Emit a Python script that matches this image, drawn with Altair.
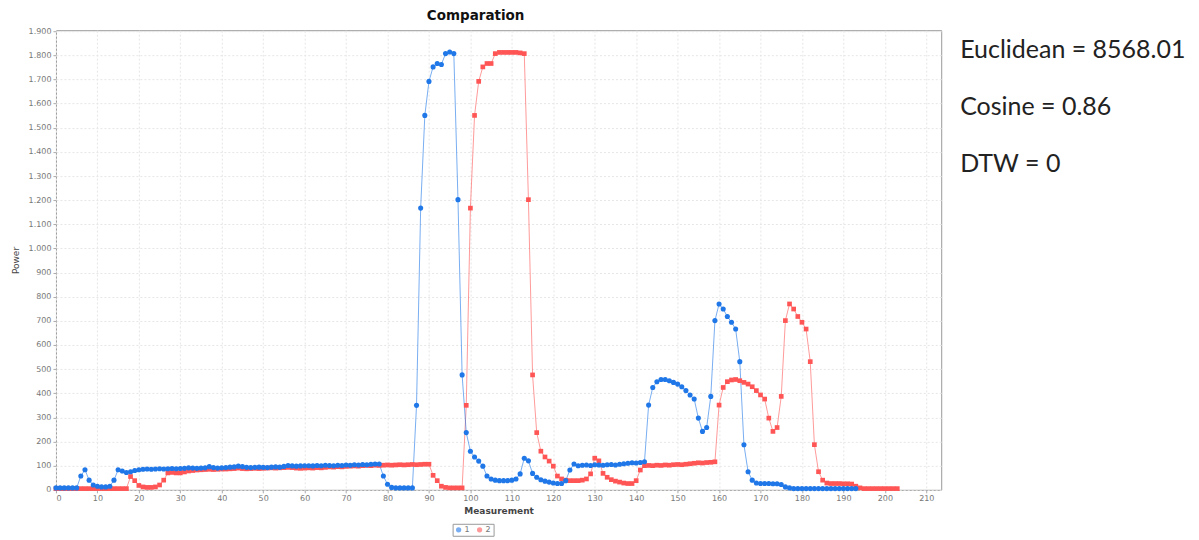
import altair as alt
import pandas as pd

# ---- data ----
blue_vals = (
    [8, 8, 8, 8, 8, 8, 57, 83, 40, 20, 15, 12, 12, 15, 40, 83, 78, 72, 75, 80]
    + [83, 85, 86, 85, 86, 87, 86, 87, 88, 87,
       88, 89, 91, 90, 89, 90, 91, 96, 92, 90,
       91, 92, 94, 95, 98, 96, 93, 92, 93, 94,
       93, 92, 94, 95, 94, 97, 101, 99, 98, 99,
       100, 100, 99, 101, 100, 102, 101, 100, 102, 101,
       103, 102, 104, 103, 105, 104, 106, 107, 107]
    + [57, 23, 10, 8, 8, 8, 8, 8]
    + [350, 1167, 1551, 1692, 1752, 1766, 1762, 1807, 1814, 1807, 1202, 476, 237]
    + [160, 136, 119, 98, 57, 45, 40, 38, 38, 38,
       40, 45, 66, 131, 120, 68, 52, 42, 36, 32,
       28, 26, 26, 38, 82, 107]
    + [100, 102, 103, 101, 104, 103, 102, 104, 105, 103, 106, 108, 110, 112, 111, 113, 116]
    + [351, 424, 448, 457, 457, 452, 445, 438, 427, 411,
       393, 376, 297, 242, 258, 387, 701, 770, 749, 718,
       694, 666, 531, 187, 75, 40, 28, 26, 26, 26,
       25, 25, 22, 12, 8]
    + [5] * 16
)

red_vals = (
    [5] * 18
    + [55, 38, 18, 12, 10, 10, 12, 20, 40, 70]
    + [72, 70, 70, 74, 78, 80, 82, 83, 84, 85,
       84, 85, 86, 86, 87, 88, 90, 88, 87, 88,
       89, 88, 89, 90, 91, 90, 91, 92, 93, 92,
       90, 89, 90, 91, 90, 92, 91, 93, 95, 94,
       96, 95, 97, 98, 99, 98, 100, 101, 100, 102,
       101, 102, 103, 102, 103, 104, 103, 104, 105, 104,
       105, 106, 106]
    + [60, 38, 15, 10, 8, 8, 8, 8]
    + [350, 1167, 1551, 1692, 1752, 1766, 1766, 1807, 1812, 1812, 1812, 1812, 1812, 1810, 1807]
    + [1202, 476, 237, 160, 136, 119, 98, 57, 45, 40,
       38, 38, 38, 40, 45, 66, 131, 120, 68, 52,
       42, 36, 32, 28, 26, 26, 38, 82, 100]
    + [101, 100, 102, 101, 103, 102, 104, 105, 104, 106, 108, 110, 112, 111, 113, 114, 116]
    + [351, 424, 448, 455, 457, 452, 445, 438, 427, 411,
       393, 376, 297, 242, 258, 387, 701, 770, 749, 718,
       694, 666, 531, 187, 75, 40, 28, 26, 26, 26,
       25, 25, 24, 15, 8]
    + [5] * 9
)

series_names = ["1", "2"]
series_colors = ["#1f77e8", "#ff5555"]
x_ticks = list(range(0, 211, 10))
y_ticks = list(range(0, 1901, 100))
metric_lines = ["Euclidean = 8568.01", "Cosine = 0.86", "DTW = 0"]
chart_title = "Comparation"

rows = []
for i, v in enumerate(red_vals):
    rows.append({"x": i, "y": v, "s": "2"})
for i, v in enumerate(blue_vals):
    rows.append({"x": i, "y": v, "s": "1"})
df = pd.DataFrame(rows)

W, H = 886, 460

xenc = alt.X("x:Q",
             scale=alt.Scale(domain=[0, 213.6], nice=False, zero=False),
             axis=alt.Axis(values=x_ticks, title="Measurement", labelFontSize=8,
                           labelColor="#777", tickColor="#aaa", tickSize=3,
                           labelPadding=2, domain=False, grid=True,
                           gridColor="#e6e6e6", gridDash=[2, 2],
                           titleFontSize=9, titleColor="#444", titleFontWeight="bold",
                           titlePadding=4, labelFont="DejaVu Sans", titleFont="DejaVu Sans"))
yenc = alt.Y("y:Q",
             scale=alt.Scale(domain=[0, 1904], nice=False),
             axis=alt.Axis(values=y_ticks, title="Power", labelFontSize=8,
                           labelExpr="replace(format(datum.value, ','), ',', '.')",
                           labelColor="#777", tickColor="#aaa", tickSize=3,
                           labelPadding=2, domain=False, grid=True,
                           gridColor="#e6e6e6", gridDash=[2, 2],
                           titleFontSize=9, titleColor="#444", titleFontWeight="normal",
                           titlePadding=8, labelFont="DejaVu Sans", titleFont="DejaVu Sans"))
color = alt.Color("s:N", scale=alt.Scale(domain=series_names, range=series_colors),
                  legend=alt.Legend(orient="none", legendX=397, legendY=494,
                                    direction="horizontal", title=None,
                                    strokeColor="#999", padding=2,
                                    symbolType="circle", symbolSize=28,
                                    symbolStrokeWidth=0, labelFontSize=8,
                                    labelColor="#777", labelOffset=2,
                                    columnPadding=5, labelFont="DejaVu Sans"))

base = alt.Chart(df)
lines = base.mark_line(strokeWidth=1, opacity=0.6).encode(
    x=xenc, y=yenc, color=color, detail="s:N")
points_red = base.transform_filter(alt.datum.s == "2").mark_point(
    filled=True, opacity=1, size=22, shape="square").encode(x=xenc, y=yenc, color=color)
points_blue = base.transform_filter(alt.datum.s == "1").mark_point(
    filled=True, opacity=1, size=26, shape="circle").encode(x=xenc, y=yenc, color=color)

title_df = pd.DataFrame({"t": [chart_title]})
title = alt.Chart(title_df).mark_text(fontSize=13.5, fontWeight="bold", font="DejaVu Sans",
                                       color="#111", baseline="alphabetic", align="center").encode(
    text="t:N", x=alt.value(420), y=alt.value(-10))

metrics_df = pd.DataFrame({"t": ["\n".join(metric_lines)]})
metrics = alt.Chart(metrics_df).mark_text(fontSize=25, font="Lato", color="#222",
                                           align="left", baseline="alphabetic",
                                           lineBreak="\n", lineHeight=57).encode(
    text="t:N", x=alt.value(905), y=alt.value(28))

chart = alt.layer(lines, points_red, points_blue, title, metrics).properties(
    width=W, height=H,
    autosize=alt.AutoSizeParams(type="none"),
    padding={"left": 48, "top": 22, "right": 250, "bottom": 48},
).configure_view(stroke="#999", strokeWidth=1, fill="white")

chart.save("out.html", embed_options={"renderer": "svg", "actions": False})
